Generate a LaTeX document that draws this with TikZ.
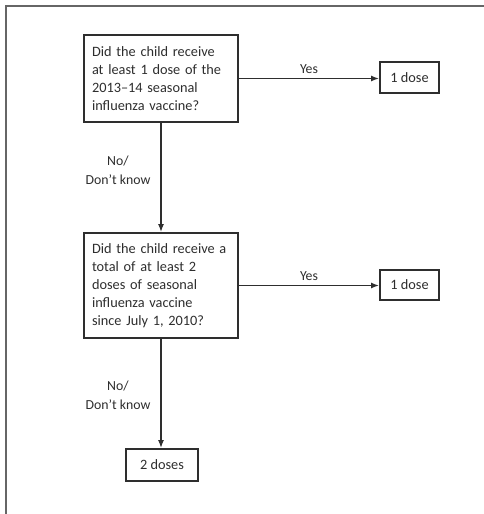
\documentclass[tikz,border=0pt]{standalone}
\usepackage{fontspec}
\setmainfont{Carlito}
\usetikzlibrary{arrows.meta}
\definecolor{ink}{HTML}{2E2E2E}
\definecolor{frame}{HTML}{666666}
\begin{document}
\begin{tikzpicture}[x=1pt,y=-1pt,
  every node/.style={font=\fontsize{14.3}{18}\selectfont, text=ink},
  qbox/.style={draw=ink, line width=1.8pt, minimum width=154pt, inner xsep=8pt, align=left, text width=138pt},
  dbox/.style={draw=ink, line width=1.8pt, inner sep=0pt, align=center},
  conn/.style={draw=ink, line width=1.5pt, -{Latex[length=8pt,width=6pt]}},
  lbl/.style={font=\fontsize{13.8}{19}\selectfont, align=center}]
\useasboundingbox (0,0) rectangle (483,514);
\fill[white] (0,0) rectangle (483,514);
\draw[frame, line width=2pt] (6,520) -- (6,6) -- (490,6);
% question boxes
\node[qbox, minimum height=87pt] (q1) at (161,78.5)
  {Did the child receive\\at least 1 dose of the\\2013--14 seasonal\\influenza vaccine?};
\node[qbox, minimum height=105pt] (q2) at (161,285.5)
  {Did the child receive a\\total of at least 2\\doses of seasonal\\influenza vaccine\\since July 1, 2010?};
% outcome boxes
\node[dbox, minimum width=59pt, minimum height=31pt] (d1) at (409.5,77.5) {1 dose};
\node[dbox, minimum width=59pt, minimum height=30pt] (d2) at (409.5,285) {1 dose};
\node[dbox, minimum width=72pt, minimum height=32pt] (d3) at (162,465) {2 doses};
% connectors
\draw[conn] (q1.east) -- node[lbl, above=1pt] {Yes} (d1.west |- q1.east);
\draw[conn] (q2.east) -- node[lbl, above=1pt] {Yes} (d2.west |- q2.east);
\draw[conn] (q1.south) -- (q2.north);
\draw[conn] (q2.south) -- (q2.south |- d3.north);
% labels
\node[lbl] (n1) at (118,170) {No/\\Don't know};
\node[lbl] (n2) at (118,395) {No/\\Don't know};
\end{tikzpicture}
\end{document}
